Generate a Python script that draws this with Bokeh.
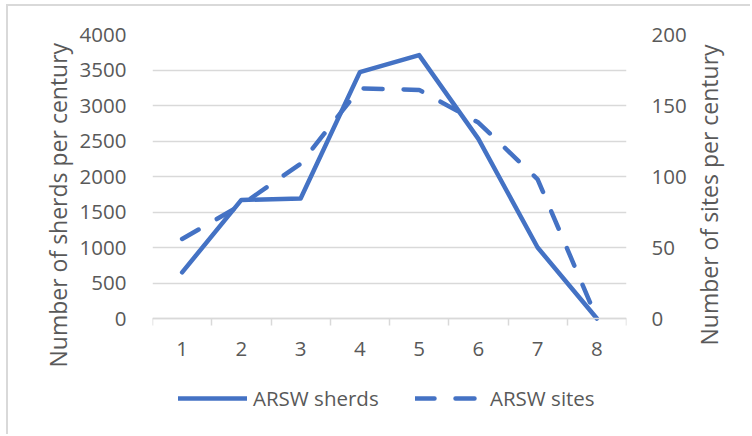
from bokeh.plotting import figure
from bokeh.layouts import row
from bokeh.models import (Range1d, LinearAxis, FixedTicker, Legend, LegendItem, Title)
from bokeh.embed import file_html
from bokeh.resources import INLINE

# Data per century
centuries = [1, 2, 3, 4, 5, 6, 7, 8]
sherds = [650, 1670, 1690, 3470, 3710, 2530, 1000, 0]
sites = [56, 80, 109, 162, 161, 138, 98, 0]
sherd_ticks = [0, 500, 1000, 1500, 2000, 2500, 3000, 3500, 4000]
site_ticks = [0, 50, 100, 150, 200]
sherd_max = 4000
site_max = 200

BLUE = "#4472C4"
TEXT = "#595959"
GRID = "#d9d9d9"
FONT = "Open Sans"
LABEL_SIZE = "20.5px"
TITLE_SIZE = "23px"

# Layout (canvas pixels): the frame runs down to the canvas bottom so that the
# legend below the x axis sits inside it; the x axis is pinned at value 0.
W, H = 681, 430
TOP, ZERO_Y = 28, 312
span_px = ZERO_Y - TOP
below_px = H - ZERO_Y
sherd_lo = -below_px / span_px * sherd_max
site_lo = -below_px / span_px * site_max

p = figure(width=W, height=H, output_backend="svg", toolbar_location=None,
           x_range=Range1d(0.5, 8.5), y_range=Range1d(sherd_lo, sherd_max),
           min_border_left=144, min_border_right=61,
           min_border_top=TOP, min_border_bottom=0,
           x_axis_location=None, y_axis_location=None)
p.margin = (4, 0, 0, 6)
p.styles = {"border-left": f"2px solid {GRID}", "border-top": f"2px solid {GRID}"}
p.outline_line_color = None
p.background_fill_color = "white"
p.border_fill_color = "white"
p.extra_y_ranges = {"sites": Range1d(site_lo, site_max)}

# Category axis with ticks between the categories
xaxis = LinearAxis(ticker=FixedTicker(ticks=centuries,
                                      minor_ticks=[c - 0.5 for c in centuries] + [8.5]),
                   fixed_location=0)
xaxis.axis_line_color = GRID
xaxis.axis_line_width = 1.5
xaxis.major_tick_line_color = None
xaxis.minor_tick_line_color = GRID
xaxis.minor_tick_line_width = 1.5
xaxis.minor_tick_out = 7
xaxis.minor_tick_in = 0
xaxis.major_label_standoff = 16
xaxis.major_label_text_font = FONT
xaxis.major_label_text_font_size = LABEL_SIZE
xaxis.major_label_text_color = TEXT
p.add_layout(xaxis, "below")

def style_value_axis(ax, standoff):
    ax.axis_line_color = None
    ax.major_tick_line_color = None
    ax.minor_tick_line_color = None
    ax.major_label_standoff = standoff
    ax.major_label_text_font = FONT
    ax.major_label_text_font_size = LABEL_SIZE
    ax.major_label_text_color = TEXT

def value_title(fig, text, offset):
    # vertical title reading bottom to top, starting `offset` px above the frame bottom
    t = Title(text=text, align="left", offset=offset, text_font=FONT,
              text_font_size=TITLE_SIZE, text_font_style="normal",
              text_color=TEXT, standoff=6)
    fig.add_layout(t, "left")

yleft = LinearAxis(ticker=FixedTicker(ticks=sherd_ticks))
style_value_axis(yleft, 20)
p.add_layout(yleft, "left")
value_title(p, "Number of sherds per century", 69)

yright = LinearAxis(y_range_name="sites", ticker=FixedTicker(ticks=site_ticks))
style_value_axis(yright, 19)
p.add_layout(yright, "right")

p.xgrid.visible = False
p.ygrid.ticker = FixedTicker(ticks=sherd_ticks)
p.ygrid.grid_line_color = GRID
p.ygrid.grid_line_width = 1.5

r_sherds = p.line(centuries, sherds, line_color=BLUE, line_width=4.5,
                  line_join="round", line_cap="round")
r_sites = p.line(centuries, sites, y_range_name="sites", line_color=BLUE,
                 line_width=4.5, line_dash="19 21", line_join="round", line_cap="round")

def make_legend(label, renderer, x):
    lg = Legend(items=[LegendItem(label=label, renderers=[renderer])],
                location=(x, 24), orientation="horizontal")
    lg.border_line_color = None
    lg.background_fill_alpha = 0
    lg.padding = 0
    lg.margin = 0
    lg.glyph_width = 69
    lg.glyph_height = 20
    lg.label_height = 20
    lg.label_standoff = 6
    lg.label_text_font = FONT
    lg.label_text_font_size = LABEL_SIZE
    lg.label_text_color = TEXT
    p.add_layout(lg, "center")

make_legend("ARSW sherds", r_sherds, 26)
make_legend("ARSW sites", r_sites, 263)

# Narrow strip on the right carrying the secondary axis title
side = figure(width=752 - 8 - W, height=H, output_backend="svg", toolbar_location=None,
              min_border_left=28, min_border_right=0,
              min_border_top=TOP, min_border_bottom=0,
              x_axis_location=None, y_axis_location=None)
side.margin = (4, 0, 0, 0)
side.styles = {"border-top": f"2px solid {GRID}"}
side.outline_line_color = None
side.xgrid.visible = False
side.ygrid.visible = False
side.background_fill_color = "white"
side.border_fill_color = "white"
value_title(side, "Number of sites per century", 91)

layout = row(p, side, spacing=0)
open("out.html", "w").write(file_html(layout, INLINE))
